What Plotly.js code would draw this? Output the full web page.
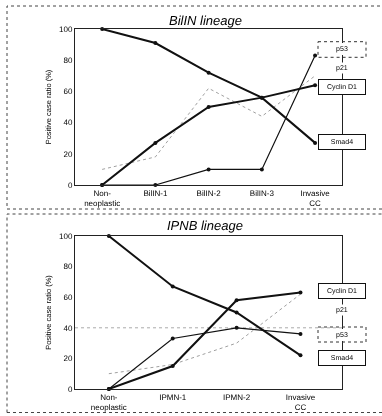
<!DOCTYPE html>
<html><head><meta charset="utf-8">
<script src="https://cdn.plot.ly/plotly-3.0.1.min.js"></script>
<style>html,body{margin:0;padding:0;background:#fff}
#chart{will-change:transform}
#chart text{-webkit-font-smoothing:antialiased;text-rendering:geometricPrecision}</style></head>
<body><div id="chart" style="width:382px;height:416px"></div>
<script>
// ---- data ----
const biliCategories = ["Non-<br>neoplastic", "BilIN-1", "BilIN-2", "BilIN-3", "Invasive<br>CC"];
const biliSmad4    = [100, 91, 72, 56, 27];
const biliCyclinD1 = [0, 27, 50, 56, 64];
const biliP53      = [0, 0, 10, 10, 83];
const biliP21      = [10, 18, 62, 44, 70];

const ipnbCategories = ["Non-<br>neoplastic", "IPMN-1", "IPMN-2", "Invasive<br>CC"];
const ipnbSmad4    = [100, 67, 50, 22];
const ipnbCyclinD1 = [0, 15, 58, 63];
const ipnbP53      = [0, 33, 40, 36];
const ipnbP21      = [10, 16, 30, 62];

const yTickVals = [0, 20, 40, 60, 80, 100];
const panelTitles = ["BilIN lineage", "IPNB lineage"];
const geneNames = ["p53", "p21", "Cyclin D1", "Smad4"];

// ---- helpers ----
const W = 382, H = 416;
const px = x => x / W;
const py = y => 1 - y / H;
const FONT = "Liberation Sans, Arial, sans-serif";

function solid(x, y, xa, ya, width) {
  return {x, y, xaxis: xa, yaxis: ya, type: "scatter", mode: "lines+markers",
    line: {color: "#111", width}, marker: {color: "#111", size: 4}, cliponaxis: false,
    hoverinfo: "skip"};
}
function dotted(x, y, xa, ya) {
  return {x, y, xaxis: xa, yaxis: ya, type: "scatter", mode: "lines",
    line: {color: "#a0a0a0", width: 1, dash: "dot"}, cliponaxis: false, hoverinfo: "skip"};
}

const data = [
  dotted(biliCategories, biliP21, "x", "y"),
  solid(biliCategories, biliP53, "x", "y", 1.2),
  solid(biliCategories, biliCyclinD1, "x", "y", 2),
  solid(biliCategories, biliSmad4, "x", "y", 2),
  dotted(ipnbCategories, ipnbP21, "x2", "y2"),
  solid(ipnbCategories, ipnbP53, "x2", "y2", 1.2),
  solid(ipnbCategories, ipnbCyclinD1, "x2", "y2", 2),
  solid(ipnbCategories, ipnbSmad4, "x2", "y2", 2)
];

const xBase = {type: "category", showgrid: false, zeroline: false, showline: true, mirror: true,
  linecolor: "#222", linewidth: 1, ticks: "", tickfont: {family: FONT, size: 8, color: "#000"},
  fixedrange: true};
const yBase = {range: [0, 100], tickvals: yTickVals, showgrid: false, zeroline: false,
  showline: true, mirror: true, linecolor: "#222", linewidth: 1, ticks: "",
  tickfont: {family: FONT, size: 8, color: "#000"}, fixedrange: true,
  title: {text: "Positive case ratio (%)", font: {family: FONT, size: 7.5, color: "#000"}, standoff: 6}};

function box(text, x, y, dottedBorder) {
  return {xref: "paper", yref: "paper", x: px(x), y: py(y), text, showarrow: false,
    xanchor: "center", yanchor: "middle", width: dottedBorder ? 44 : 46, height: dottedBorder ? 12 : 13.6,
    bgcolor: "#fff", bordercolor: "#111", borderwidth: dottedBorder ? 0 : 1, borderpad: 0,
    font: {family: FONT, size: 7, color: "#000"}};
}
function label(text, x, y) {
  return {xref: "paper", yref: "paper", x: px(x), y: py(y), text, showarrow: false,
    xanchor: "center", yanchor: "middle", bgcolor: "#fff", borderpad: 1,
    font: {family: FONT, size: 7, color: "#000"}};
}
function dottedRect(x0, y0, x1, y1) {
  return {type: "rect", xref: "paper", yref: "paper", x0: px(x0), x1: px(x1), y0: py(y0), y1: py(y1),
    line: {color: "#333", width: 1, dash: "dot"}, layer: "above"};
}

const layout = {
  width: W, height: H, margin: {l: 0, r: 0, t: 0, b: 0},
  paper_bgcolor: "#fff", plot_bgcolor: "#fff", showlegend: false,
  xaxis: Object.assign({}, xBase, {domain: [px(75), px(341.7)], range: [-0.51, 4.5], anchor: "y"}),
  yaxis: Object.assign({}, yBase, {domain: [py(185), py(29)], anchor: "x"}),
  xaxis2: Object.assign({}, xBase, {domain: [px(75), px(342)], range: [-0.53, 3.65], anchor: "y2"}),
  yaxis2: Object.assign({}, yBase, {domain: [py(389), py(236)], anchor: "x2"}),
  shapes: [
    {type: "rect", xref: "paper", yref: "paper", x0: px(7), x1: px(395), y0: py(209), y1: py(6),
      line: {color: "#444", width: 1, dash: "dot"}, layer: "below"},
    {type: "rect", xref: "paper", yref: "paper", x0: px(7), x1: px(395), y0: py(412.5), y1: py(214),
      line: {color: "#444", width: 1, dash: "dot"}, layer: "below"},
    {type: "line", xref: "x2 domain", yref: "y2", x0: 0, x1: 1, y0: 40, y1: 40,
      line: {color: "#aaa", width: 1, dash: "dot"}, layer: "below"},
    dottedRect(318, 41.7, 366, 57.3),
    dottedRect(318, 327, 366, 342)
  ],
  annotations: [
    {xref: "paper", yref: "paper", x: px(206), y: py(20), text: "<i>" + panelTitles[0] + "</i>",
      showarrow: false, xanchor: "center", yanchor: "middle", font: {family: FONT, size: 13, color: "#000"}},
    {xref: "paper", yref: "paper", x: px(205), y: py(226), text: "<i>" + panelTitles[1] + "</i>",
      showarrow: false, xanchor: "center", yanchor: "middle", font: {family: FONT, size: 13, color: "#000"}},
    box(geneNames[0], 342, 49.5, true),
    label(geneNames[1], 342, 68),
    box(geneNames[2], 342, 86.5, false),
    box(geneNames[3], 342, 141.5, false),
    box(geneNames[2], 342, 291, false),
    label(geneNames[1], 342, 309.5),
    box(geneNames[0], 342, 334.5, true),
    box(geneNames[3], 342, 358, false)
  ]
};

Plotly.newPlot("chart", data, layout, {displayModeBar: false, staticPlot: true});
</script>
</body></html>
